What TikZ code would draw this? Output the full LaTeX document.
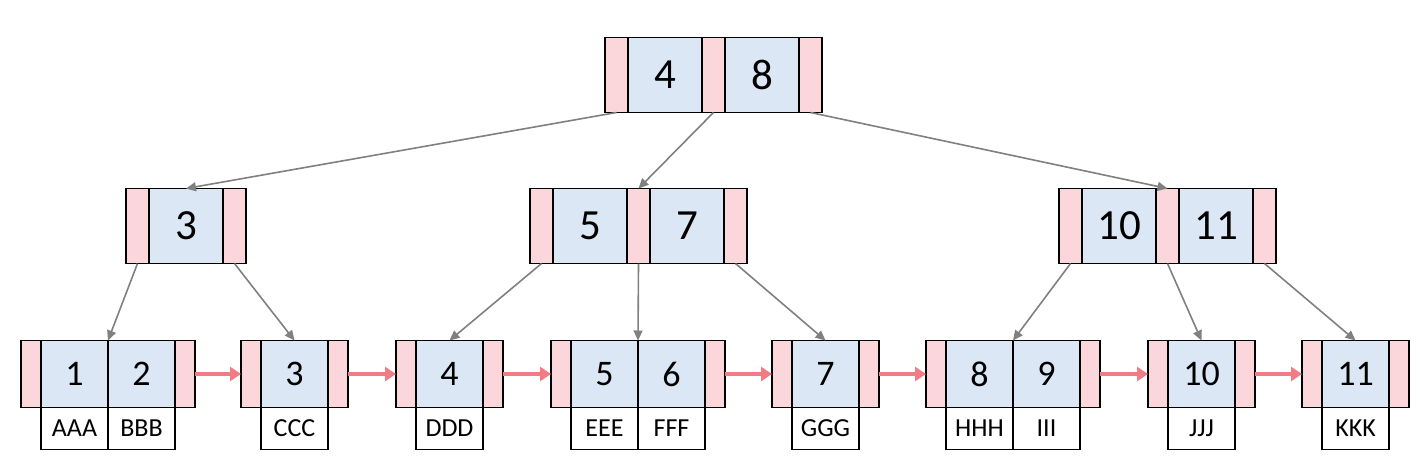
\documentclass[tikz,border=0pt]{standalone}
\usepackage{fontspec}
\setmainfont{Carlito}
\usepackage{xcolor}
\usetikzlibrary{arrows.meta,positioning}
\definecolor{ptrpink}{RGB}{251,214,218}
\definecolor{keyblue}{RGB}{219,231,244}
\definecolor{edgegray}{RGB}{128,128,128}
\definecolor{linkred}{RGB}{242,124,132}

\begin{document}
\begin{tikzpicture}[
        x=1pt, y=-1pt,
        ptr_cell/.style={
            rectangle,
            draw=black,
            line width=1.8pt,
            fill=ptrpink,
            minimum width=23pt,
            minimum height=75pt,
            inner sep=0pt,
            outer sep=0pt
        },
        key_cell/.style={
            ptr_cell,
            fill=keyblue,
            minimum width=74pt,
            font=\fontsize{43}{50}\selectfont
        },
        leaf_ptr/.style={
            ptr_cell,
            minimum width=20pt,
            minimum height=67pt
        },
        leaf_key/.style={
            key_cell,
            minimum width=67pt,
            minimum height=67pt,
            font=\fontsize{36}{42}\selectfont
        },
        data_cell/.style={
            ptr_cell,
            fill=white,
            anchor=north,
            minimum width=67pt,
            minimum height=42pt,
            font=\fontsize{26}{30}\selectfont
        },
        tree_edge/.style={
            draw=edgegray,
            line width=1.6pt,
            -{Triangle[length=10pt,width=9pt]}
        },
        leaf_link/.style={
            draw=linkred,
            line width=4.5pt,
            -{Triangle[length=11pt,width=14pt]}
        }
    ]
        \useasboundingbox (0,0) rectangle (1422,475);

        % Root
        \node[ptr_cell, anchor=west] (root_p0) at (605,75) {};
        \node[key_cell, right=0pt of root_p0] (root_k1) {4};
        \node[ptr_cell, right=0pt of root_k1] (root_p1) {};
        \node[key_cell, right=0pt of root_p1] (root_k2) {8};
        \node[ptr_cell, right=0pt of root_k2] (root_p2) {};

        % Inner level
        \node[ptr_cell, anchor=west] (n3_p0) at (126,226) {};
        \node[key_cell, right=0pt of n3_p0] (n3_k1) {3};
        \node[ptr_cell, right=0pt of n3_k1] (n3_p1) {};

        \node[ptr_cell, anchor=west] (n57_p0) at (530,226) {};
        \node[key_cell, right=0pt of n57_p0] (n57_k1) {5};
        \node[ptr_cell, right=0pt of n57_k1] (n57_p1) {};
        \node[key_cell, right=0pt of n57_p1] (n57_k2) {7};
        \node[ptr_cell, right=0pt of n57_k2] (n57_p2) {};

        \node[ptr_cell, anchor=west] (n1011_p0) at (1059,226) {};
        \node[key_cell, right=0pt of n1011_p0] (n1011_k1) {10};
        \node[ptr_cell, right=0pt of n1011_k1] (n1011_p1) {};
        \node[key_cell, right=0pt of n1011_p1] (n1011_k2) {11};
        \node[ptr_cell, right=0pt of n1011_k2] (n1011_p2) {};

        % Leaves
        \node[leaf_ptr, anchor=west] (l1_p0) at (21,374) {};
        \node[leaf_key, right=0pt of l1_p0] (l1_k1) {1};
        \node[leaf_key, right=0pt of l1_k1] (l1_k2) {2};
        \node[leaf_ptr, right=0pt of l1_k2] (l1_p1) {};

        \node[leaf_ptr, anchor=west] (l3_p0) at (241,374) {};
        \node[leaf_key, right=0pt of l3_p0] (l3_k1) {3};
        \node[leaf_ptr, right=0pt of l3_k1] (l3_p1) {};

        \node[leaf_ptr, anchor=west] (l4_p0) at (396,374) {};
        \node[leaf_key, right=0pt of l4_p0] (l4_k1) {4};
        \node[leaf_ptr, right=0pt of l4_k1] (l4_p1) {};

        \node[leaf_ptr, anchor=west] (l56_p0) at (551,374) {};
        \node[leaf_key, right=0pt of l56_p0] (l56_k1) {5};
        \node[leaf_key, right=0pt of l56_k1] (l56_k2) {6};
        \node[leaf_ptr, right=0pt of l56_k2] (l56_p1) {};

        \node[leaf_ptr, anchor=west] (l7_p0) at (772,374) {};
        \node[leaf_key, right=0pt of l7_p0] (l7_k1) {7};
        \node[leaf_ptr, right=0pt of l7_k1] (l7_p1) {};

        \node[leaf_ptr, anchor=west] (l89_p0) at (926,374) {};
        \node[leaf_key, right=0pt of l89_p0] (l89_k1) {8};
        \node[leaf_key, right=0pt of l89_k1] (l89_k2) {9};
        \node[leaf_ptr, right=0pt of l89_k2] (l89_p1) {};

        \node[leaf_ptr, anchor=west] (l10_p0) at (1148,374) {};
        \node[leaf_key, right=0pt of l10_p0] (l10_k1) {10};
        \node[leaf_ptr, right=0pt of l10_k1] (l10_p1) {};

        \node[leaf_ptr, anchor=west] (l11_p0) at (1302,374) {};
        \node[leaf_key, right=0pt of l11_p0] (l11_k1) {11};
        \node[leaf_ptr, right=0pt of l11_k1] (l11_p1) {};

        % Records
        \node[data_cell] (d_aaa) at (l1_k1.south) {AAA};
        \node[data_cell] (d_bbb) at (l1_k2.south) {BBB};
        \node[data_cell] (d_ccc) at (l3_k1.south) {CCC};
        \node[data_cell] (d_ddd) at (l4_k1.south) {DDD};
        \node[data_cell] (d_eee) at (l56_k1.south) {EEE};
        \node[data_cell] (d_fff) at (l56_k2.south) {FFF};
        \node[data_cell] (d_ggg) at (l7_k1.south) {GGG};
        \node[data_cell] (d_hhh) at (l89_k1.south) {HHH};
        \node[data_cell] (d_iii) at (l89_k2.south) {III};
        \node[data_cell] (d_jjj) at (l10_k1.south) {JJJ};
        \node[data_cell] (d_kkk) at (l11_k1.south) {KKK};

        % Child pointers
        \draw[tree_edge] (root_p0.south) -- (n3_k1.north);
        \draw[tree_edge] (root_p1.south) -- (n57_p1.north);
        \draw[tree_edge] (root_p2.south) -- (n1011_p1.north);
        \draw[tree_edge] (n3_p0.south) -- (l1_k1.north east);
        \draw[tree_edge] (n3_p1.south) -- (l3_k1.north);
        \draw[tree_edge] (n57_p0.south) -- (l4_k1.north);
        \draw[tree_edge] (n57_p1.south) -- (l56_k1.north east);
        \draw[tree_edge] (n57_p2.south) -- (l7_k1.north);
        \draw[tree_edge] (n1011_p0.south) -- (l89_k1.north east);
        \draw[tree_edge] (n1011_p1.south) -- (l10_k1.north);
        \draw[tree_edge] (n1011_p2.south) -- (l11_k1.north);

        % Leaf chain
        \foreach \from/\to in {l1/l3, l3/l4, l4/l56, l56/l7, l7/l89, l89/l10, l10/l11}
            \draw[leaf_link] (\from_p1.east) -- (\to_p0.west);
    \end{tikzpicture}
\end{document}
